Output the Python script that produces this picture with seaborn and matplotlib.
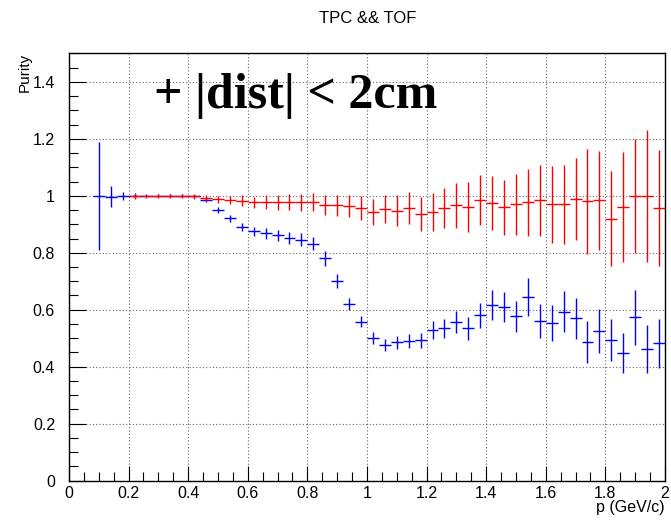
import numpy as np
import pandas as pd
import matplotlib
matplotlib.use("Agg")
import matplotlib.pyplot as plt
import seaborn as sns

# Bin width of the momentum histogram (GeV/c)
bin_width = 0.04

# Purity with TPC && TOF + |dist| < 2cm (blue)
p_blue = [0.10, 0.14, 0.18, 0.22, 0.26, 0.30, 0.34, 0.38, 0.42, 0.46,
          0.50, 0.54, 0.58, 0.62, 0.66, 0.70, 0.74, 0.78, 0.82, 0.86,
          0.90, 0.94, 0.98, 1.02, 1.06, 1.10, 1.14, 1.18, 1.22, 1.26,
          1.30, 1.34, 1.38, 1.42, 1.46, 1.50, 1.54, 1.58, 1.62, 1.66,
          1.70, 1.74, 1.78, 1.82, 1.86, 1.90, 1.94, 1.98]
purity_blue = [1.000, 0.997, 0.999, 1.000, 1.000, 1.000, 1.000, 1.000, 0.998, 0.985,
               0.951, 0.921, 0.891, 0.876, 0.868, 0.862, 0.852, 0.845, 0.832, 0.780,
               0.702, 0.620, 0.558, 0.502, 0.477, 0.486, 0.489, 0.493, 0.528, 0.535,
               0.557, 0.535, 0.580, 0.617, 0.610, 0.577, 0.646, 0.560, 0.555, 0.593,
               0.570, 0.488, 0.524, 0.494, 0.448, 0.573, 0.461, 0.482]
err_blue = [0.190, 0.037, 0.015, 0.008, 0.006, 0.005, 0.005, 0.005, 0.006, 0.008,
            0.010, 0.012, 0.015, 0.016, 0.018, 0.019, 0.020, 0.023, 0.022, 0.026,
            0.024, 0.022, 0.019, 0.021, 0.021, 0.023, 0.025, 0.026, 0.031, 0.034,
            0.037, 0.041, 0.043, 0.053, 0.053, 0.054, 0.067, 0.059, 0.063, 0.072,
            0.072, 0.074, 0.077, 0.075, 0.071, 0.098, 0.084, 0.085]

# Purity without the distance cut (red)
p_red = [0.22, 0.26, 0.30, 0.34, 0.38, 0.42, 0.46, 0.50, 0.54, 0.58,
         0.62, 0.66, 0.70, 0.74, 0.78, 0.82, 0.86, 0.90, 0.94, 0.98,
         1.02, 1.06, 1.10, 1.14, 1.18, 1.22, 1.26, 1.30, 1.34, 1.38,
         1.42, 1.46, 1.50, 1.54, 1.58, 1.62, 1.66, 1.70, 1.74, 1.78,
         1.82, 1.86, 1.90, 1.94, 1.98]
purity_red = [0.998, 0.998, 0.999, 0.999, 0.999, 0.998, 0.993, 0.988, 0.986, 0.982,
              0.977, 0.977, 0.977, 0.977, 0.977, 0.977, 0.967, 0.967, 0.964, 0.957,
              0.942, 0.953, 0.947, 0.957, 0.935, 0.942, 0.957, 0.967, 0.960, 0.984,
              0.974, 0.960, 0.970, 0.977, 0.984, 0.970, 0.970, 0.989, 0.980, 0.984,
              0.919, 0.960, 0.999, 0.999, 0.957]
err_red = [0.008, 0.006, 0.006, 0.006, 0.007, 0.008, 0.010, 0.012, 0.014, 0.019,
           0.020, 0.025, 0.026, 0.028, 0.029, 0.032, 0.035, 0.037, 0.039, 0.041,
           0.045, 0.050, 0.054, 0.056, 0.059, 0.066, 0.071, 0.079, 0.087, 0.088,
           0.095, 0.096, 0.106, 0.118, 0.124, 0.136, 0.139, 0.144, 0.184, 0.174,
           0.167, 0.192, 0.200, 0.233, 0.203]

blue_df = pd.DataFrame({"p": p_blue, "purity": purity_blue, "err": err_blue})
red_df = pd.DataFrame({"p": p_red, "purity": purity_red, "err": err_red})

sns.set_theme(style="ticks")
plt.rcParams["font.family"] = ["Liberation Sans", "DejaVu Sans"]
plt.rcParams["text.color"] = "black"
plt.rcParams["axes.labelcolor"] = "black"
plt.rcParams["xtick.color"] = "black"
plt.rcParams["ytick.color"] = "black"

fig = plt.figure(figsize=(6.71, 5.22), dpi=100, facecolor="white")
ax = fig.add_axes([0.1028, 0.0791, 0.8882, 0.8188])

for df, color in ((blue_df, "#0000ff"), (red_df, "#ff0000")):
    ax.errorbar(df["p"], df["purity"], xerr=bin_width / 2, yerr=df["err"],
                fmt="none", ecolor=color, elinewidth=1.0, capsize=0)

ax.set_xlim(0, 2)
ax.set_ylim(0, 1.5)
ax.set_xticks(np.arange(0, 2.01, 0.2))
ax.set_xticks(np.arange(0, 2.01, 0.05), minor=True)
ax.set_yticks(np.arange(0, 1.41, 0.2))
ax.set_yticks(np.arange(0, 1.51, 0.05), minor=True)
ax.set_xticklabels(["0", "0.2", "0.4", "0.6", "0.8", "1", "1.2", "1.4", "1.6", "1.8", "2"])
ax.set_yticklabels(["0", "0.2", "0.4", "0.6", "0.8", "1", "1.2", "1.4"])

ax.grid(True, which="major", color="#666666", linestyle=(0, (1, 2)), linewidth=0.8)
ax.set_axisbelow(True)

ax.tick_params(axis="both", which="both", direction="in", colors="black",
               labelcolor="black", labelsize=11.5, width=0.8, top=False, right=False)
ax.tick_params(axis="y", which="major", length=12.5, pad=10)
ax.tick_params(axis="y", which="minor", length=6.5)
ax.tick_params(axis="x", which="major", length=11, pad=4)
ax.tick_params(axis="x", which="minor", length=6.5)
for spine in ax.spines.values():
    spine.set_visible(True)
    spine.set_color("black")
    spine.set_linewidth(1.0)

fig.text(0.548, 0.9655, "TPC && TOF", ha="center", va="center", fontsize=12, color="black")
fig.text(0.037, 0.898, "Purity", rotation=90, ha="center", va="top", fontsize=11, color="black")
fig.text(0.991, 0.013, "p (GeV/c)", ha="right", va="bottom", fontsize=11.5, color="black")
fig.text(0.2295, 0.7931, "+ |dist| < 2cm", ha="left", va="baseline", color="black",
         fontsize=36, fontweight="bold", family=["Liberation Serif", "DejaVu Serif"])

fig.savefig("out.png", dpi=100, facecolor="white")
